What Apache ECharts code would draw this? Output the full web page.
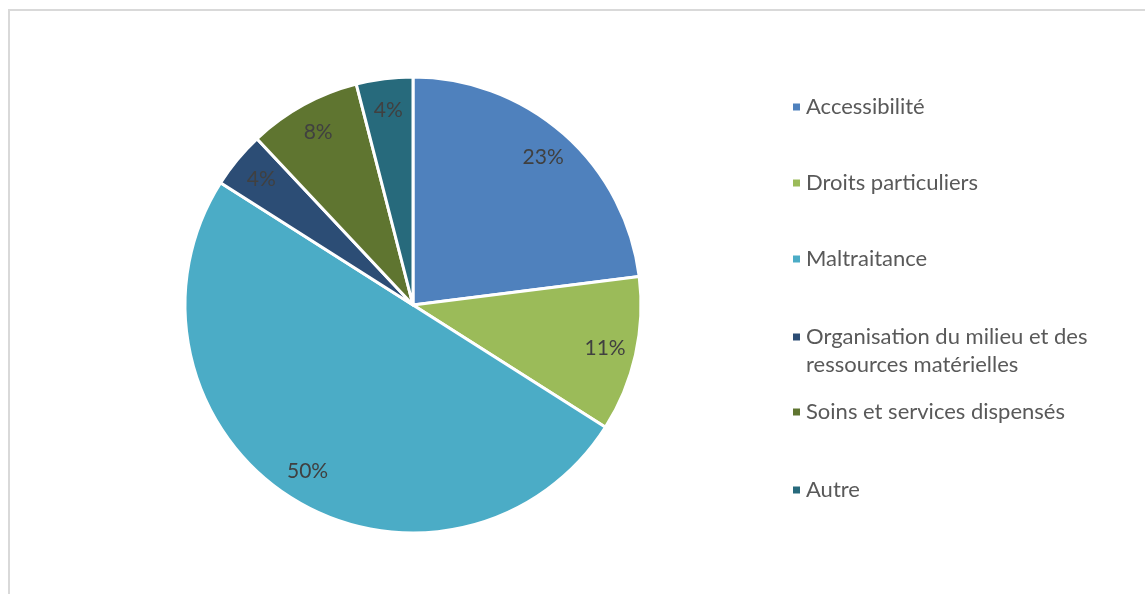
<!DOCTYPE html>
<html>
<head>
<meta charset="utf-8">
<script src="https://cdn.jsdelivr.net/npm/echarts@6/dist/echarts.min.js"></script>
<style>
  html, body { margin: 0; padding: 0; background: #fff; }
  #chart { width: 1145px; height: 594px; }
</style>
</head>
<body>
<div id="chart"></div>
<script>
// Répartition des plaintes par motif (%)
const categories = [
  'Accessibilité',
  'Droits particuliers',
  'Maltraitance',
  'Organisation du milieu et des ressources matérielles',
  'Soins et services dispensés',
  'Autre'
];
const shares = [23, 11, 50, 4, 8, 4];
const colors = ['#4F81BD', '#9BBB59', '#4BACC6', '#2C4D75', '#5F7530', '#276A7C'];

const FONT = 'Lato, "Open Sans", sans-serif';
const CX = 413, CY = 305, R = 228;

const pieData = categories.map((name, i) => ({
  name, value: shares[i], itemStyle: { color: colors[i] }
}));

// One legend per entry so each keeps its own row (marker centre y)
const legendRows = [107, 183, 259, 337, 412, 490];
const ICON = 9;
const LINE_H = 28;
const legends = categories.map((name, i) => {
  const twoLine = i === 3;
  const lines = twoLine ? 3 : 1;
  return {
    data: [name],
    orient: 'vertical',
    left: 791,
    // the text block is centred on the marker, so the box top sits half a block above it
    top: legendRows[i] - (lines * LINE_H) / 2,
    padding: 0,
    icon: 'rect',
    itemWidth: ICON,
    itemHeight: ICON,
    itemGap: 0,
    selectedMode: false,
    // leading blank line keeps the first text line level with the marker
    formatter: n => twoLine ? '\nOrganisation du milieu et des\nressources matérielles' : n,
    textStyle: {
      fontFamily: FONT,
      fontSize: 22,
      color: '#595959',
      lineHeight: LINE_H
    }
  };
});

const chart = echarts.init(document.getElementById('chart'), null, { renderer: 'canvas' });
chart.setOption({
  backgroundColor: '#ffffff',
  animation: false,
  graphic: [{
    type: 'rect',
    shape: { x: 9, y: 10, width: 1160, height: 620 },
    style: { fill: 'none', stroke: '#D9D9D9', lineWidth: 2 },
    silent: true,
    z: -1
  }],
  legend: legends,
  series: [
    {
      type: 'pie',
      center: [CX, CY],
      radius: [0, R],
      startAngle: 90,
      clockwise: true,
      label: { show: false },
      labelLine: { show: false },
      itemStyle: { borderColor: '#ffffff', borderWidth: 3 },
      emphasis: { disabled: true },
      data: pieData
    },
    {
      // transparent ring carrying the percentage labels near the rim
      type: 'pie',
      center: [CX, CY],
      radius: [R * 0.70, R],
      startAngle: 90,
      clockwise: true,
      silent: true,
      legendHoverLink: false,
      itemStyle: { color: 'rgba(0,0,0,0)', borderWidth: 0 },
      emphasis: { disabled: true },
      label: {
        show: true,
        position: 'inside',
        formatter: '{d}%',
        fontFamily: FONT,
        fontSize: 21,
        color: '#404040'
      },
      labelLine: { show: false },
      data: categories.map((name, i) => ({ name, value: shares[i] })),
      z: 3
    }
  ]
});
</script>
</body>
</html>
